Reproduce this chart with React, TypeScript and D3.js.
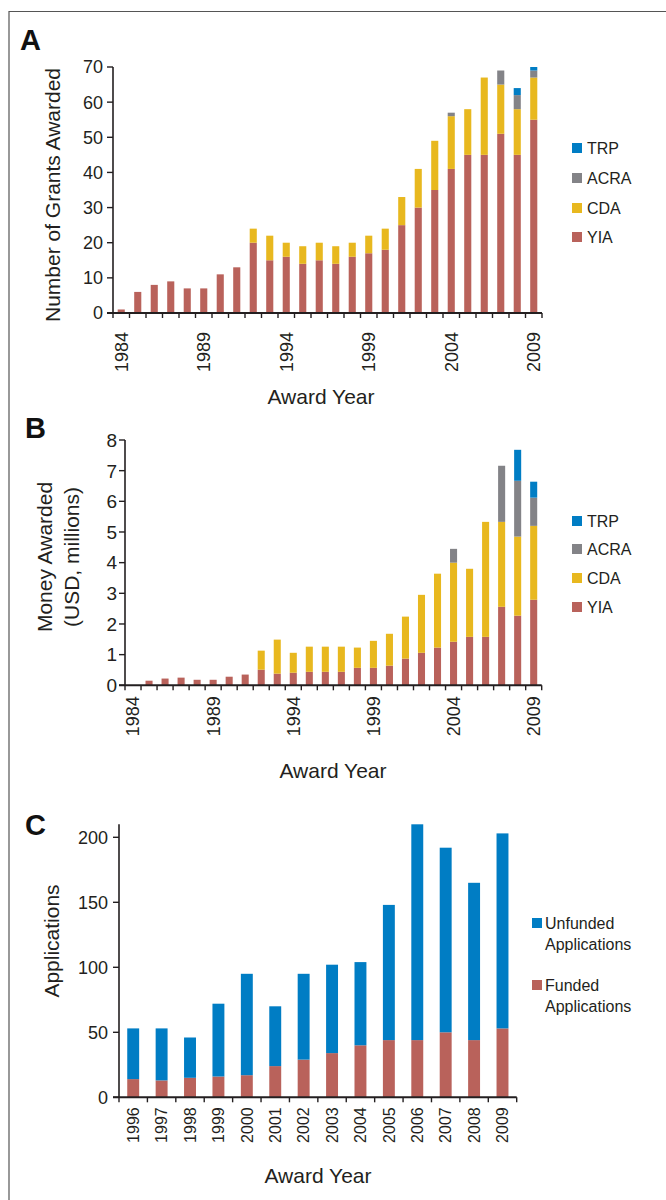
import React, { useEffect, useRef } from 'react';
import * as d3 from 'd3';

// Panel A / B categories
const yearsAB = ['1984', '1985', '1986', '1987', '1988', '1989', '1990', '1991', '1992', '1993', '1994', '1995', '1996',
  '1997', '1998', '1999', '2000', '2001', '2002', '2003', '2004', '2005', '2006', '2007', '2008', '2009'];
const yearLabelsAB = ['1984', '1989', '1994', '1999', '2004', '2009'];

// Panel A: number of grants awarded
const yiaGrants = [1, 6, 8, 9, 7, 7, 11, 13, 20, 15, 16, 14, 15, 14, 16, 17, 18, 25, 30, 35, 41, 45, 45, 51, 45, 55];
const cdaGrants = [0, 0, 0, 0, 0, 0, 0, 0, 4, 7, 4, 5, 5, 5, 4, 5, 6, 8, 11, 14, 15, 13, 22, 14, 13, 12];
const acraGrants = [0, 0, 0, 0, 0, 0, 0, 0, 0, 0, 0, 0, 0, 0, 0, 0, 0, 0, 0, 0, 1, 0, 0, 4, 4, 2];
const trpGrants = [0, 0, 0, 0, 0, 0, 0, 0, 0, 0, 0, 0, 0, 0, 0, 0, 0, 0, 0, 0, 0, 0, 0, 0, 2, 1];
const grantTicks = [0, 10, 20, 30, 40, 50, 60, 70];

// Panel B: money awarded (USD, millions)
const yiaMoney = [0, 0.15, 0.22, 0.25, 0.18, 0.18, 0.28, 0.35, 0.51, 0.38, 0.41, 0.44, 0.44, 0.44, 0.57, 0.57, 0.64, 0.87,
  1.06, 1.23, 1.42, 1.58, 1.58, 2.56, 2.27, 2.79];
const cdaMoney = [0, 0, 0, 0, 0, 0, 0, 0, 0.62, 1.11, 0.65, 0.82, 0.82, 0.82, 0.66, 0.88, 1.04, 1.37, 1.89, 2.41, 2.58,
  2.22, 3.75, 2.77, 2.58, 2.41];
const acraMoney = [0, 0, 0, 0, 0, 0, 0, 0, 0, 0, 0, 0, 0, 0, 0, 0, 0, 0, 0, 0, 0.45, 0, 0, 1.83, 1.82, 0.92];
const trpMoney = [0, 0, 0, 0, 0, 0, 0, 0, 0, 0, 0, 0, 0, 0, 0, 0, 0, 0, 0, 0, 0, 0, 0, 0, 1.01, 0.52];
const moneyTicks = [0, 1, 2, 3, 4, 5, 6, 7, 8];

// Panel C: applications
const yearsC = ['1996', '1997', '1998', '1999', '2000', '2001', '2002', '2003', '2004', '2005', '2006', '2007', '2008', '2009'];
const fundedApps = [14, 13, 15, 16, 17, 24, 29, 34, 40, 44, 44, 50, 44, 53];
const unfundedApps = [39, 40, 31, 56, 78, 46, 66, 68, 64, 104, 166, 142, 121, 150];
const appTicks = [0, 50, 100, 150, 200];

const FONT = '"Liberation Sans", Arial, Helvetica, sans-serif';
const AXIS = '#231f20';
const TEXT = '#231f20';

type Series = { key: string; values: number[]; color: string };
type LegendItem = { label: string[]; color: string; y: number };

type PanelCfg = {
  letter: string; letterX: number; letterY: number;
  x0: number; x1: number; yBottom: number; yTop: number; yMax: number;
  years: string[]; labelYears: string[]; padding: number;
  series: Series[]; ticks: number[];
  tickFont: number; xTickFont: number; tickLen: number; labelGap: number; xLabelOffset: number;
  yTitle: { text: string; x: number }[]; yTitleY: number;
  xTitleX: number; xTitleY: number;
  legendX: number; legendTextX: number; legend: LegendItem[];
};

function drawPanel(svg: d3.Selection<SVGSVGElement, unknown, null, undefined>, cfg: PanelCfg) {
  const g = svg.append('g');

  const x = d3.scaleBand<string>()
    .domain(cfg.years)
    .range([cfg.x0, cfg.x1])
    .paddingInner(cfg.padding)
    .paddingOuter(cfg.padding / 2);

  const y = d3.scaleLinear()
    .domain([0, cfg.yMax])
    .range([cfg.yBottom, cfg.yTop]);

  // table for the stack
  const rows = cfg.years.map((yr, i) => {
    const r: Record<string, number | string> = { year: yr };
    cfg.series.forEach(s => { r[s.key] = s.values[i]; });
    return r;
  });
  const stack = d3.stack<Record<string, number | string>>()
    .keys(cfg.series.map(s => s.key))
    .value((d, k) => d[k] as number);
  const layers = stack(rows);

  layers.forEach((layer, li) => {
    g.append('g')
      .attr('fill', cfg.series[li].color)
      .selectAll('rect')
      .data(layer.filter(d => d[1] - d[0] > 0))
      .enter().append('rect')
      .attr('x', d => x(d.data.year as string)!)
      .attr('width', x.bandwidth())
      .attr('y', d => y(d[1]))
      .attr('height', d => y(d[0]) - y(d[1]));
  });

  // y axis
  g.append('line')
    .attr('x1', cfg.x0).attr('x2', cfg.x0)
    .attr('y1', cfg.yTop).attr('y2', cfg.yBottom)
    .attr('stroke', AXIS).attr('stroke-width', 1.6);

  g.selectAll('.ytick')
    .data(cfg.ticks)
    .enter().append('line')
    .attr('x1', cfg.x0 - cfg.tickLen).attr('x2', cfg.x0)
    .attr('y1', d => y(d)).attr('y2', d => y(d))
    .attr('stroke', AXIS).attr('stroke-width', 1.4);

  g.selectAll('.ylabel')
    .data(cfg.ticks)
    .enter().append('text')
    .attr('x', cfg.x0 - cfg.labelGap)
    .attr('y', d => y(d))
    .attr('dy', '0.36em')
    .attr('text-anchor', 'end')
    .attr('font-family', FONT)
    .attr('font-size', cfg.tickFont)
    .attr('fill', TEXT)
    .text(d => String(d));

  // x axis
  g.append('line')
    .attr('x1', cfg.x0 - cfg.tickLen).attr('x2', cfg.x1)
    .attr('y1', cfg.yBottom).attr('y2', cfg.yBottom)
    .attr('stroke', AXIS).attr('stroke-width', 2);

  const gap = (x.step() - x.bandwidth()) / 2;
  const bounds = cfg.years.map(yr => x(yr)! - gap).concat([cfg.x1]);
  g.selectAll('.xtick')
    .data(bounds)
    .enter().append('line')
    .attr('x1', d => d).attr('x2', d => d)
    .attr('y1', cfg.yBottom).attr('y2', cfg.yBottom + 5)
    .attr('stroke', AXIS).attr('stroke-width', 1.4);

  g.selectAll('.xlabel')
    .data(cfg.labelYears)
    .enter().append('text')
    .attr('transform', d => `translate(${x(d)! + x.bandwidth() / 2},${cfg.yBottom + cfg.xLabelOffset}) rotate(-90)`)
    .attr('dy', '0.36em')
    .attr('text-anchor', 'end')
    .attr('font-family', FONT)
    .attr('font-size', cfg.xTickFont)
    .attr('fill', TEXT)
    .text(d => d);

  // titles
  g.append('text')
    .attr('x', cfg.xTitleX).attr('y', cfg.xTitleY)
    .attr('text-anchor', 'middle')
    .attr('font-family', FONT).attr('font-size', 21)
    .attr('fill', TEXT)
    .text('Award Year');

  cfg.yTitle.forEach(t => {
    g.append('text')
      .attr('transform', `translate(${t.x},${cfg.yTitleY}) rotate(-90)`)
      .attr('text-anchor', 'middle')
      .attr('font-family', FONT).attr('font-size', 21)
      .attr('fill', TEXT)
      .text(t.text);
  });

  g.append('text')
    .attr('x', cfg.letterX).attr('y', cfg.letterY)
    .attr('font-family', FONT).attr('font-size', 29).attr('font-weight', 'bold')
    .attr('fill', '#111')
    .text(cfg.letter);

  // legend
  cfg.legend.forEach(item => {
    g.append('rect')
      .attr('x', cfg.legendX).attr('y', item.y - 5)
      .attr('width', 10).attr('height', 10)
      .attr('fill', item.color);
    item.label.forEach((line, li) => {
      g.append('text')
        .attr('x', cfg.legendTextX).attr('y', item.y + li * 21)
        .attr('dy', '0.36em')
        .attr('font-family', FONT).attr('font-size', 16)
        .attr('fill', TEXT)
        .text(line);
    });
  });
}

const YIA = '#b9625b';
const CDA = '#e8b81f';
const ACRA = '#838387';
const TRP = '#007dc4';

const App = () => {
  const svgRef = useRef<SVGSVGElement>(null);

  useEffect(() => {
    const svg = d3.select(svgRef.current!);
    svg.selectAll('*').remove();

    // frame
    svg.append('path')
      .attr('d', 'M9,1200 V11.5 H666')
      .attr('fill', 'none')
      .attr('stroke', '#555')
      .attr('stroke-width', 1.2);

    drawPanel(svg, {
      letter: 'A', letterX: 20, letterY: 50,
      x0: 113, x1: 542, yBottom: 313, yTop: 67, yMax: 70,
      years: yearsAB, labelYears: yearLabelsAB, padding: 0.57,
      series: [
        { key: 'YIA', values: yiaGrants, color: YIA },
        { key: 'CDA', values: cdaGrants, color: CDA },
        { key: 'ACRA', values: acraGrants, color: ACRA },
        { key: 'TRP', values: trpGrants, color: TRP },
      ],
      ticks: grantTicks,
      tickFont: 18, xTickFont: 18, tickLen: 6, labelGap: 10, xLabelOffset: 19,
      yTitle: [{ text: 'Number of Grants Awarded', x: 60 }], yTitleY: 195,
      xTitleX: 321, xTitleY: 404,
      legendX: 572, legendTextX: 587,
      legend: [
        { label: ['TRP'], color: TRP, y: 148 },
        { label: ['ACRA'], color: ACRA, y: 178 },
        { label: ['CDA'], color: CDA, y: 208 },
        { label: ['YIA'], color: YIA, y: 237 },
      ],
    });

    drawPanel(svg, {
      letter: 'B', letterX: 25, letterY: 438,
      x0: 125, x1: 541.7, yBottom: 685.3, yTop: 440, yMax: 8,
      years: yearsAB, labelYears: yearLabelsAB, padding: 0.56,
      series: [
        { key: 'YIA', values: yiaMoney, color: YIA },
        { key: 'CDA', values: cdaMoney, color: CDA },
        { key: 'ACRA', values: acraMoney, color: ACRA },
        { key: 'TRP', values: trpMoney, color: TRP },
      ],
      ticks: moneyTicks,
      tickFont: 19, xTickFont: 18, tickLen: 6, labelGap: 8, xLabelOffset: 11,
      yTitle: [{ text: 'Money Awarded', x: 52 }, { text: '(USD, millions)', x: 79 }], yTitleY: 557,
      xTitleX: 333, xTitleY: 778,
      legendX: 572, legendTextX: 587,
      legend: [
        { label: ['TRP'], color: TRP, y: 521 },
        { label: ['ACRA'], color: ACRA, y: 549 },
        { label: ['CDA'], color: CDA, y: 578 },
        { label: ['YIA'], color: YIA, y: 607 },
      ],
    });

    drawPanel(svg, {
      letter: 'C', letterX: 25, letterY: 835,
      x0: 119, x1: 516.7, yBottom: 1097.3, yTop: 824.3, yMax: 210,
      years: yearsC, labelYears: yearsC, padding: 0.58,
      series: [
        { key: 'Funded', values: fundedApps, color: YIA },
        { key: 'Unfunded', values: unfundedApps, color: TRP },
      ],
      ticks: appTicks,
      tickFont: 18, xTickFont: 16, tickLen: 6, labelGap: 11, xLabelOffset: 10,
      yTitle: [{ text: 'Applications', x: 59 }], yTitleY: 941,
      xTitleX: 318, xTitleY: 1183,
      legendX: 532, legendTextX: 545,
      legend: [
        { label: ['Unfunded', 'Applications'], color: TRP, y: 923 },
        { label: ['Funded', 'Applications'], color: YIA, y: 985 },
      ],
    });
  }, []);

  return (
    <svg
      ref={svgRef}
      width={666}
      height={1200}
      style={{ position: 'absolute', left: 0, top: 0, background: '#fff' }}
    />
  );
};

export default App;
